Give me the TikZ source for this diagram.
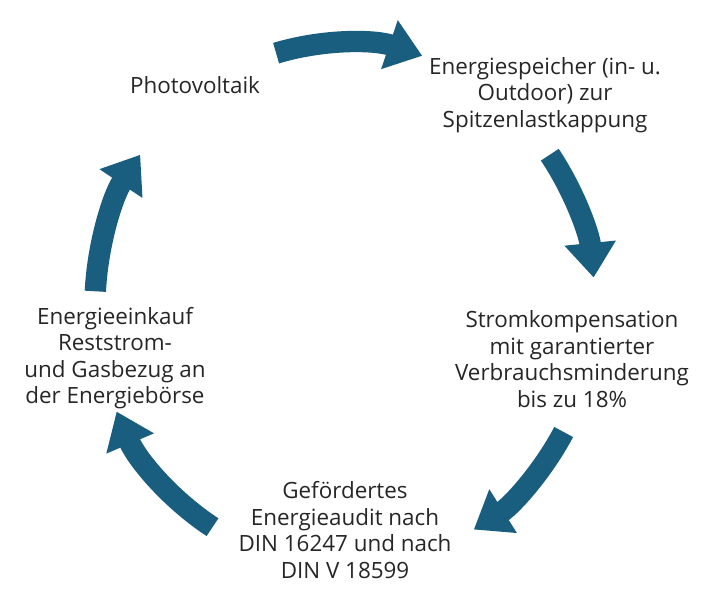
\documentclass[tikz,border=0pt]{standalone}
\usepackage{fontspec}
\setmainfont{Open Sans}
\usetikzlibrary{arrows.meta}
\definecolor{cyc}{HTML}{195E7F}
\begin{document}
\begin{tikzpicture}[x=0.75pt,y=0.75pt,
  lbl/.style={align=center,font=\fontsize{16.8}{19.8}\selectfont,text=black!85},
  cyca/.style={draw=cyc,line width=16pt,-{Triangle[width=37pt,length=26pt]}}]
\useasboundingbox (0,0) rectangle (709,596);
\coordinate (c) at (345,291);
\foreach \s/\e in {106/72, 35/6, -29/-59, -122/-156, 177/145}{
  \draw[cyca] (c) ++(\s:187.5pt and 196.5pt) arc[start angle=\s,end angle=\e,x radius=187.5pt,y radius=196.5pt];
}
\node[lbl] (pv) at (195,511) {Photovoltaik};
\node[lbl] (es) at (545,501) {Energiespeicher (in- u.\\Outdoor) zur\\Spitzenlastkappung};
\node[lbl] (sk) at (572,237) {Stromkompensation\\mit garantierter\\Verbrauchsminderung\\bis zu 18\%};
\node[lbl] (ea) at (345,66) {Gefördertes\\Energieaudit nach\\DIN 16247 und nach\\DIN V 18599};
\node[lbl] (ek) at (115,238) {Energieeinkauf\\Reststrom-\\und Gasbezug an\\der Energiebörse};
\end{tikzpicture}
\end{document}
